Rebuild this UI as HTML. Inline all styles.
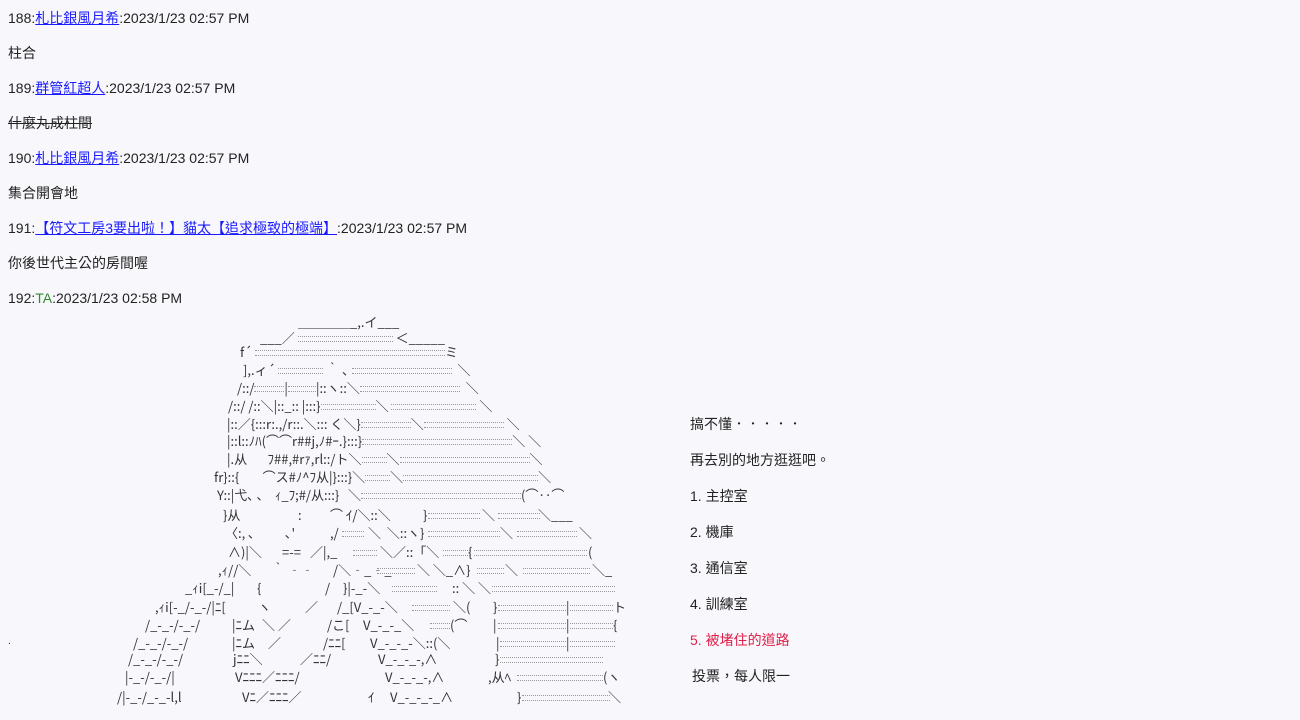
<!DOCTYPE html>
<html><head><meta charset="utf-8">
<style>
body{margin:0;width:1300px;height:720px;background:#f8f8fc;font-family:"Liberation Sans","Noto Sans CJK TC",sans-serif;font-size:14px;color:#222;position:relative;overflow:hidden}
.t{position:absolute;left:8px;white-space:nowrap;line-height:20px}
a{color:#1a1aff;text-decoration:underline}
.g{color:#2e8b2e}
.r{color:#e0204a}
.aa{position:absolute;white-space:pre;font-family:"Noto Sans CJK JP","Liberation Sans",sans-serif;font-size:13px;line-height:18px;color:#333}
.aa i,i.d{display:inline-block;height:4px;border-top:1px dotted #999;border-bottom:1px dotted #999;vertical-align:middle}
i.d{position:absolute}
.m{position:absolute;left:690px;white-space:nowrap;line-height:20px}
</style></head><body>
<div class="t" style="top:8px">188:<a>札比銀風月希</a>:2023/1/23 02:57 PM</div>
<div class="t" style="top:43px">柱合</div>
<div class="t" style="top:78px">189:<a>群管紅超人</a>:2023/1/23 02:57 PM</div>
<div class="t" style="top:113px"><s>什麼丸成柱間</s></div>
<div class="t" style="top:148px">190:<a>札比銀風月希</a>:2023/1/23 02:57 PM</div>
<div class="t" style="top:183px">集合開會地</div>
<div class="t" style="top:218px">191:<a>【符文工房3要出啦！】貓太【追求極致的極端】</a>:2023/1/23 02:57 PM</div>
<div class="t" style="top:253px">你後世代主公的房間喔</div>
<div class="t" style="top:288px">192:<span class="g">TA</span>:2023/1/23 02:58 PM</div>
<div class="t" style="top:632px;font-size:10px">.</div>

<div class="aa" style="left:298px;top:313px">＿＿＿＿_,.イ___</div>
<div class="aa" style="left:260px;top:329px">___／ <i style="width:95px"></i> ＜_____</div>
<div class="aa" style="left:240px;top:343px">f´ <i style="width:190px"></i>ミ</div>
<div class="aa" style="left:243px;top:361px">],.ィ´ <i style="width:45px"></i> ｀ ､ <i style="width:100px"></i>  ＼</div>
<div class="aa" style="left:237px;top:379px">/::/<i style="width:30px"></i>|<i style="width:28px"></i>|::ヽ::＼<i style="width:100px"></i>  ＼</div>
<div class="aa" style="left:228px;top:397px">/::/ /::＼|::_:: |:::}<i style="width:55px"></i>＼ <i style="width:85px"></i> ＼</div>
<div class="aa" style="left:227px;top:415px">|::／{:::r:.,/r::.＼::: く＼}<i style="width:50px"></i>＼<i style="width:80px"></i> ＼</div>
<div class="aa" style="left:227px;top:432px">|::l::ﾉﾊ(⌒⌒r##j,ﾉ#ｰ.}:::}<i style="width:150px"></i>＼ ＼</div>
<div class="aa" style="left:227px;top:450px">|.从       ﾌ##,#rｧ,rl::/ト＼<i style="width:25px"></i>＼<i style="width:130px"></i>＼</div>
<div class="aa" style="left:214px;top:468px">fr}::{        ⌒ス#ﾉ^ﾌ从|}:::}＼<i style="width:25px"></i>＼<i style="width:135px"></i>＼</div>
<div class="aa" style="left:217px;top:486px">Y::|弋､ ､    ｨ_ﾌ;#/从:::}   ＼<i style="width:160px"></i>(⌒‥⌒</div>

<!-- L12 y515 -->
<div class="aa" style="left:223px;top:506px">}从</div><div class="aa" style="left:298px;top:506px">:</div>
<div class="aa" style="left:330px;top:506px">⌒ ｲ/＼::＼</div><div class="aa" style="left:423px;top:506px">}</div>
<i class="d" style="left:428px;top:513px;width:52px"></i><div class="aa" style="left:482px;top:506px">＼</div>
<i class="d" style="left:498px;top:513px;width:42px"></i><div class="aa" style="left:538px;top:506px">＼___</div>
<!-- L13 y533 -->
<div class="aa" style="left:225px;top:524px">〈:, ､</div><div class="aa" style="left:285px;top:524px">､'</div>
<div class="aa" style="left:330px;top:524px">,/</div><i class="d" style="left:342px;top:531px;width:22px"></i>
<div class="aa" style="left:368px;top:524px">＼  ＼::ヽ}</div><i class="d" style="left:428px;top:531px;width:72px"></i>
<div class="aa" style="left:500px;top:524px">＼</div><i class="d" style="left:517px;top:531px;width:60px"></i><div class="aa" style="left:579px;top:524px">＼</div>
<!-- L14 y552 -->
<div class="aa" style="left:228px;top:543px">∧)|＼</div><div class="aa" style="left:282px;top:543px">=-=</div>
<div class="aa" style="left:310px;top:543px">／|,_</div><i class="d" style="left:353px;top:550px;width:24px"></i>
<div class="aa" style="left:380px;top:543px">＼／::「＼</div><i class="d" style="left:443px;top:550px;width:27px"></i>
<div class="aa" style="left:468px;top:543px">{</div><i class="d" style="left:474px;top:550px;width:113px"></i><div class="aa" style="left:588px;top:543px">(</div>
<!-- L15 y570 -->
<div class="aa" style="left:218px;top:561px">,ｨ//＼</div><div class="aa" style="left:272px;top:561px">｀ ‐‐</div>
<div class="aa" style="left:333px;top:561px">/＼‐_‐_</div><i class="d" style="left:377px;top:568px;width:38px"></i>
<div class="aa" style="left:417px;top:561px">＼ ＼_∧}</div><i class="d" style="left:477px;top:568px;width:27px"></i>
<div class="aa" style="left:505px;top:561px">＼</div><i class="d" style="left:523px;top:568px;width:67px"></i><div class="aa" style="left:592px;top:561px">＼_</div>
<!-- L16 y588 -->
<div class="aa" style="left:185px;top:579px">_ｨi[_-/_|</div><div class="aa" style="left:257px;top:579px">{</div>
<div class="aa" style="left:325px;top:579px">/</div><div class="aa" style="left:343px;top:579px">}|-_-＼</div>
<i class="d" style="left:392px;top:586px;width:45px"></i><div class="aa" style="left:452px;top:579px">:: ＼ ＼</div>
<i class="d" style="left:492px;top:586px;width:123px"></i>
<!-- L17 y607 -->
<div class="aa" style="left:155px;top:598px">,ｨi[-_/-_-/|ﾆ[</div><div class="aa" style="left:258px;top:598px">ヽ</div>
<div class="aa" style="left:305px;top:598px">／</div><div class="aa" style="left:337px;top:598px">/_[V_-_-＼</div>
<i class="d" style="left:412px;top:605px;width:38px"></i><div class="aa" style="left:453px;top:598px">＼(</div>
<div class="aa" style="left:493px;top:598px">}</div><i class="d" style="left:498px;top:605px;width:68px"></i>
<div class="aa" style="left:566px;top:598px">|</div><i class="d" style="left:570px;top:605px;width:43px"></i><div class="aa" style="left:613px;top:598px">ト</div>
<!-- L18 y625 -->
<div class="aa" style="left:145px;top:616px">/_-_-/-_-/</div><div class="aa" style="left:232px;top:616px">|ﾆム</div>
<div class="aa" style="left:262px;top:616px">＼ ／</div><div class="aa" style="left:327px;top:616px">/こ[</div>
<div class="aa" style="left:363px;top:616px">V_-_-_＼</div><i class="d" style="left:430px;top:623px;width:20px"></i>
<div class="aa" style="left:450px;top:616px">(⌒</div><div class="aa" style="left:493px;top:616px">|</div>
<i class="d" style="left:498px;top:623px;width:68px"></i><div class="aa" style="left:566px;top:616px">|</div>
<i class="d" style="left:570px;top:623px;width:43px"></i><div class="aa" style="left:613px;top:616px">{</div>
<!-- L19 y643 -->
<div class="aa" style="left:133px;top:634px">/_-_-/-_-/</div><div class="aa" style="left:232px;top:634px">|ﾆム</div>
<div class="aa" style="left:268px;top:634px">／</div><div class="aa" style="left:323px;top:634px">/ﾆﾆ[</div>
<div class="aa" style="left:370px;top:634px">V_-_-_-＼::(＼</div><div class="aa" style="left:496px;top:634px">|</div>
<i class="d" style="left:500px;top:641px;width:66px"></i><div class="aa" style="left:566px;top:634px">|</div>
<i class="d" style="left:570px;top:641px;width:45px"></i>
<!-- L20 y659 -->
<div class="aa" style="left:128px;top:650px">/_-_-/-_-/</div><div class="aa" style="left:233px;top:650px">jﾆﾆ＼</div>
<div class="aa" style="left:300px;top:650px">／ﾆﾆ/</div><div class="aa" style="left:378px;top:650px">V_-_-_-,∧</div>
<div class="aa" style="left:495px;top:650px">}</div><i class="d" style="left:500px;top:657px;width:103px"></i>
<!-- L21 y677 -->
<div class="aa" style="left:125px;top:668px">|-_-/-_-/|</div><div class="aa" style="left:235px;top:668px">Vﾆﾆﾆ／ﾆﾆﾆ/</div>
<div class="aa" style="left:385px;top:668px">V_-_-_-,∧</div><div class="aa" style="left:488px;top:668px">,从ﾍ</div>
<i class="d" style="left:517px;top:675px;width:86px"></i><div class="aa" style="left:603px;top:668px">(ヽ</div>
<!-- L22 y697 -->
<div class="aa" style="left:117px;top:688px">/|-_-/_-_-l,l</div><div class="aa" style="left:242px;top:688px">Vﾆ／ﾆﾆﾆ／</div>
<div class="aa" style="left:368px;top:688px">ｲ</div><div class="aa" style="left:390px;top:688px">V_-_-_-_∧</div>
<div class="aa" style="left:517px;top:688px">}</div><i class="d" style="left:522px;top:695px;width:88px"></i>
<div class="aa" style="left:608px;top:688px">＼</div>

<div class="m" style="top:414px">搞不懂．．．．．</div>
<div class="m" style="top:450px">再去別的地方逛逛吧。</div>
<div class="m" style="top:486px">1. 主控室</div>
<div class="m" style="top:522px">2. 機庫</div>
<div class="m" style="top:558px">3. 通信室</div>
<div class="m" style="top:594px">4. 訓練室</div>
<div class="m r" style="top:630px">5. 被堵住的道路</div>
<div class="m" style="top:666px;left:692px">投票，每人限一</div>
</body></html>
